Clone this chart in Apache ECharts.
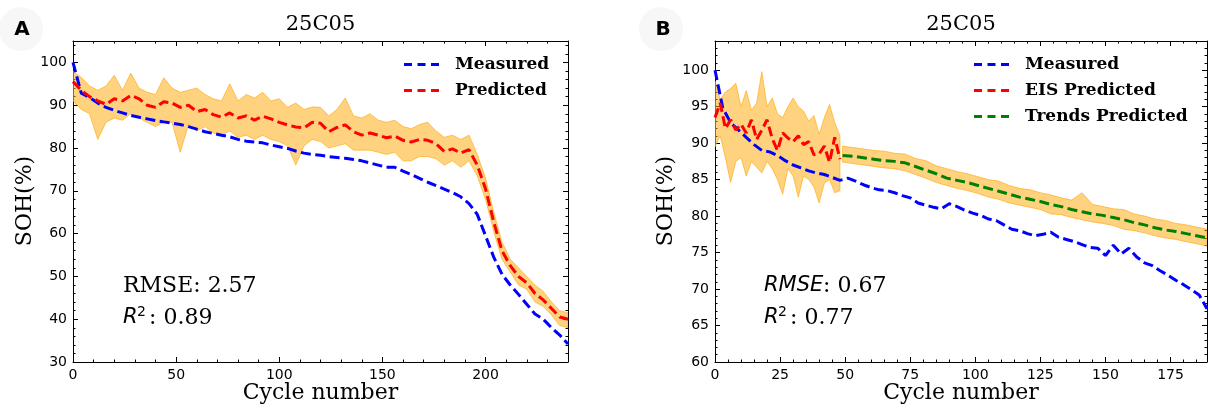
<!DOCTYPE html>
<html><head><meta charset="utf-8">
<script src="https://cdn.jsdelivr.net/npm/echarts@6/dist/echarts.min.js"></script>
<style>html,body{margin:0;padding:0;background:#fff}#c{width:1208px;height:409px}</style>
</head><body><div id="c"></div><script>
// ---------- Panel A data ----------
const cyclesA = [0,4,8,12,16,20,24,28,32,36,40,44,48,52,56,60,64,68,72,76,80,84,88,92,96,100,104,108,112,116,120,124,128,132,136,140,144,148,152,156,160,164,168,172,176,180,184,188,192,196,200,204,208,212,216,220,224,228,232,236,240];
const measuredA = [100,92.8,91.8,90.5,89.5,88.8,88.2,87.6,87.2,86.8,86.4,86.1,85.8,85.5,85.0,84.4,83.8,83.4,83.0,82.6,82.0,81.6,81.4,81.2,80.7,80.3,79.9,79.3,78.8,78.5,78.3,78.0,77.8,77.6,77.3,77.0,76.5,76.0,75.5,75.5,74.6,73.8,72.9,72.0,71.2,70.4,69.6,68.6,67.0,64.5,59.5,54.5,50.5,48.0,45.8,43.5,41.2,40.0,38.0,36.3,34.2];
const predictedA = [95.5,93.5,92.0,91.0,90.2,91.5,91.0,92.3,91.5,90.0,89.5,90.8,90.5,89.5,90.0,88.5,89.0,87.8,87.2,88.2,87.0,87.5,86.5,87.4,86.8,86.0,85.4,84.9,84.7,86.0,85.8,83.8,84.8,85.4,83.8,83.0,83.5,83.0,82.4,82.8,81.8,81.4,82.0,81.8,81.0,79.2,79.8,78.8,79.6,76.0,70.5,62.7,56.0,52.5,50.0,48.5,46.0,44.5,42.5,40.5,40.0];
const upperA = [98,96.5,94.5,93.5,94.5,97,93.5,97.5,94,93,92.5,96.4,94,93,93.5,94,92.5,91.5,91,95,91,92.5,91.7,93,91,91.5,89.5,90.5,89,89.6,89.5,87.5,89,91.7,87.5,87,88,86.5,86,86.5,85,84.5,85.5,86,84,82.5,83,82,83,78.5,73,65,58,54,52,50,48,46.5,44,42,41.5];
const lowerA = [91,89,88,82,86,87,86.5,88,87,86,85,86,86,79,85.5,84,85,83.5,83,84,82.5,83,82,83,82,81.5,80.5,76,80.5,82,81.5,80,80.5,81,79.5,79.5,79.5,79,78.5,79,77,77,78,78,77.5,76,77,75.5,77,73.5,68,60.5,54,51,48,47,44,43,41,38.5,38];

// ---------- Panel B data ----------
const cyclesB = [0,3,6,9,12,15,18,21,24,27,30,33,36,39,42,45,48,51,54,57,60,63,66,69,72,75,78,81,84,87,90,93,96,99,102,105,108,111,114,117,120,123,126,129,132,135,138,141,144,147,150,153,156,159,162,165,168,171,174,177,180,183,186,189];
const measuredB = [100,94.8,92.8,91.8,90.8,89.8,89.0,88.8,88.3,87.6,87.0,86.6,86.2,85.9,85.7,85.3,84.9,85.2,84.8,84.3,83.9,83.6,83.5,83.2,82.8,82.5,81.8,81.5,81.2,81.0,81.7,81.3,80.8,80.4,80.1,79.6,79.4,78.8,78.2,78.0,77.6,77.3,77.5,77.8,77.1,76.8,76.5,76.1,75.7,75.6,74.6,76.0,74.8,75.6,74.4,73.6,73.2,72.5,71.9,71.2,70.6,69.9,69.2,67.3];
const cyclesEIS = [0,2,4,6,8,10,12,14,16,18,20,22,24,26,28,30,32,34,36,38,40,42,44,46,48];
const eisPredB = [93.5,95.5,92.0,93.2,91.8,92.6,91.4,93.2,90.5,91.8,93.2,90.6,89.0,91.4,90.7,90.2,91.0,89.8,90.2,88.4,88.5,89.6,87.4,90.8,87.8];
const eisUpperB = [98.5,96,97,97.5,98.2,95,97.2,94.5,95.5,99.8,95,96.2,94,93.5,95,96.2,95,94.4,93,93.8,91.2,93.5,95.3,92.8,91];
const eisLowerB = [89.5,91,88,84.6,87.5,88,85.5,87.5,86.7,85.9,87.5,86.5,85,83,86.5,85.5,82.6,85.5,85,84,81.8,84.5,85,83.2,83.5];
const cyclesTrend = [49,53,57,61,65,69,73,77,81,85,89,93,97,101,105,109,113,117,121,125,129,133,137,141,145,149,153,157,161,165,169,173,177,181,185,189];
const trendB = [88.3,88.2,88.0,87.8,87.6,87.5,87.3,86.8,86.3,85.8,85.2,84.9,84.6,84.2,83.8,83.4,83.0,82.6,82.3,82.0,81.6,81.3,80.9,80.6,80.3,80.1,79.8,79.5,79.1,78.8,78.4,78.1,77.9,77.6,77.3,77.0];
const trendUpperB = [89.6,89.4,89.2,89.0,88.9,88.6,88.5,87.9,87.6,86.9,86.5,86.1,85.8,85.4,85.0,84.8,84.2,83.8,83.6,83.2,82.9,82.5,82.2,83.2,81.6,81.3,81.0,80.9,80.3,80.0,79.6,79.4,79.0,78.8,78.5,78.2];
const trendLowerB = [87.4,87.2,87.0,86.8,86.6,86.5,86.2,85.7,85.2,84.6,84.2,83.8,83.5,83.1,82.6,82.3,81.8,81.5,81.2,80.9,80.3,80.2,79.8,79.5,79.2,79.0,78.7,78.2,78.0,77.7,77.3,77.0,76.8,76.5,76.2,75.9];

const legendA = ['Measured','Predicted'];
const legendB = ['Measured','EIS Predicted','Trends Predicted'];

// ---------- helpers ----------
function zip(xs, ys){ const n=Math.min(xs.length, ys.length); const o=[]; for(let i=0;i<n;i++) o.push([xs[i], ys[i]]); return o; }

function band(xs, up, lo, xi, yi){
  const n=Math.min(xs.length, up.length, lo.length);
  const data=[]; for(let i=0;i<n;i++) data.push([xs[i], up[i], lo[i]]);
  return {
    type:'custom', xAxisIndex:xi, yAxisIndex:yi, data:data, z:1, silent:true, clip:true,
    encode:{x:0, y:[1,2]},
    renderItem:function(params, api){
      if(params.dataIndex!==0) return null;
      const pts=[];
      for(let i=0;i<data.length;i++) pts.push(api.coord([data[i][0], data[i][1]]));
      for(let i=data.length-1;i>=0;i--) pts.push(api.coord([data[i][0], data[i][2]]));
      return {type:'polygon', shape:{points:pts}, style:{fill:'rgba(255,165,0,0.5)', stroke:'rgba(255,165,0,0.6)', lineWidth:1}};
    }
  };
}
function line(name, xs, ys, color, xi, yi){
  return {type:'line', name:name, xAxisIndex:xi, yAxisIndex:yi, data:zip(xs, ys), color:color,
    showSymbol:false, symbol:'none', z:3, silent:true,
    itemStyle:{color:color}, lineStyle:{color:color, width:3, type:[10,4.5]}};
}
const LS={color:'#000', width:1};
function axisSet(kind, g, min, max, major, minor){
  const posA = kind==='x' ? 'bottom' : 'left';
  const posB = kind==='x' ? 'top' : 'right';
  const base = {type:'value', gridIndex:g, min:min, max:max, splitLine:{show:false}, silent:true};
  return [
    Object.assign({}, base, {position:posA, interval:major,
      axisLine:{show:true, onZero:false, lineStyle:LS},
      axisTick:{show:true, inside:true, length:5, lineStyle:LS},
      axisLabel:{show:true, fontFamily:'DejaVu Sans', fontSize:14, color:'#000', margin:6, showMaxLabel:false}}),
    Object.assign({}, base, {position:posA, interval:minor,
      axisLine:{show:false, onZero:false},
      axisTick:{show:true, inside:true, length:2.5, lineStyle:LS},
      axisLabel:{show:false}}),
    Object.assign({}, base, {position:posB, interval:major,
      axisLine:{show:true, onZero:false, lineStyle:LS},
      axisTick:{show:true, inside:true, length:5, lineStyle:LS},
      axisLabel:{show:false}}),
    Object.assign({}, base, {position:posB, interval:minor,
      axisLine:{show:false, onZero:false},
      axisTick:{show:true, inside:true, length:2.5, lineStyle:LS},
      axisLabel:{show:false}})
  ];
}
const dashIcon='path://M0,0H8V3H0Z M13.5,0H21.5V3H13.5Z M27,0H35V3H27Z';
function legendCfg(names, left){
  return {show:true, data:names, orient:'vertical', left:left, top:56, padding:0, icon:dashIcon,
    itemWidth:35, itemHeight:3, itemGap:9, selectedMode:false,
    textStyle:{fontFamily:'DejaVu Serif', fontWeight:'bold', fontSize:17, color:'#000', padding:[0,0,0,11]}};
}
function txt(x,y,text,font,align,rot){
  const o={type:'text', x:x, y:y, silent:true, z:10,
    style:{text:text, font:font, fill:'#000', align:align||'left', verticalAlign:'middle'}};
  if(rot) o.rotation=rot;
  return o;
}

const chart = echarts.init(document.getElementById('c'), null, {renderer:'canvas'});
const option = {
  animation:false,
  backgroundColor:'#fff',
  grid:[{left:73, top:41, width:495, height:321}, {left:715, top:41, width:492, height:321}],
  xAxis:[].concat(axisSet('x',0,0,240,50,10), axisSet('x',1,0,189,25,5)),
  yAxis:[].concat(axisSet('y',0,30,105,10,2), axisSet('y',1,60,104,5,1)),
  legend:[legendCfg(legendA, 404), legendCfg(legendB, 974)],
  series:[
    band(cyclesA, upperA, lowerA, 0, 0),
    line('Measured', cyclesA, measuredA, '#0000ff', 0, 0),
    line('Predicted', cyclesA, predictedA, '#ff0000', 0, 0),
    band(cyclesEIS, eisUpperB, eisLowerB, 4, 4),
    band(cyclesTrend, trendUpperB, trendLowerB, 4, 4),
    line('Measured', cyclesB, measuredB, '#0000ff', 4, 4),
    line('EIS Predicted', cyclesEIS, eisPredB, '#ff0000', 4, 4),
    line('Trends Predicted', cyclesTrend, trendB, '#008000', 4, 4)
  ],
  graphic:[
    {type:'circle', silent:true, z:0, shape:{cx:21, cy:29, r:22}, style:{fill:'#f7f7f7'}},
    {type:'circle', silent:true, z:0, shape:{cx:661, cy:29, r:22}, style:{fill:'#f7f7f7'}},
    txt(22,30,'A','bold 20px "DejaVu Sans"','center'),
    txt(663,30,'B','bold 20px "DejaVu Sans"','center'),
    txt(320.5,25,'25C05','21px "DejaVu Serif"','center'),
    txt(961,25,'25C05','21px "DejaVu Serif"','center'),
    txt(320.5,393,'Cycle number','22px "DejaVu Serif"','center'),
    txt(961,393,'Cycle number','22px "DejaVu Serif"','center'),
    txt(25,201,'SOH(%)','22px "DejaVu Serif"','center',Math.PI/2),
    txt(666,201,'SOH(%)','22px "DejaVu Serif"','center',Math.PI/2),
    // panel A metrics
    txt(123,286,'RMSE: 2.57','22px "DejaVu Serif"','left'),
    txt(123,318,'R','italic 21px "DejaVu Sans"','left'),
    txt(137,312,'2','14px "DejaVu Sans"','left'),
    txt(149,318,': 0.89','22px "DejaVu Serif"','left'),
    // panel B metrics
    txt(764,286,'RMSE','italic 21px "DejaVu Sans"','left'),
    txt(823,286,': 0.67','22px "DejaVu Serif"','left'),
    txt(764,318,'R','italic 21px "DejaVu Sans"','left'),
    txt(778,312,'2','14px "DejaVu Sans"','left'),
    txt(790,318,': 0.77','22px "DejaVu Serif"','left')
  ]
};
chart.setOption(option);
</script></body></html>
